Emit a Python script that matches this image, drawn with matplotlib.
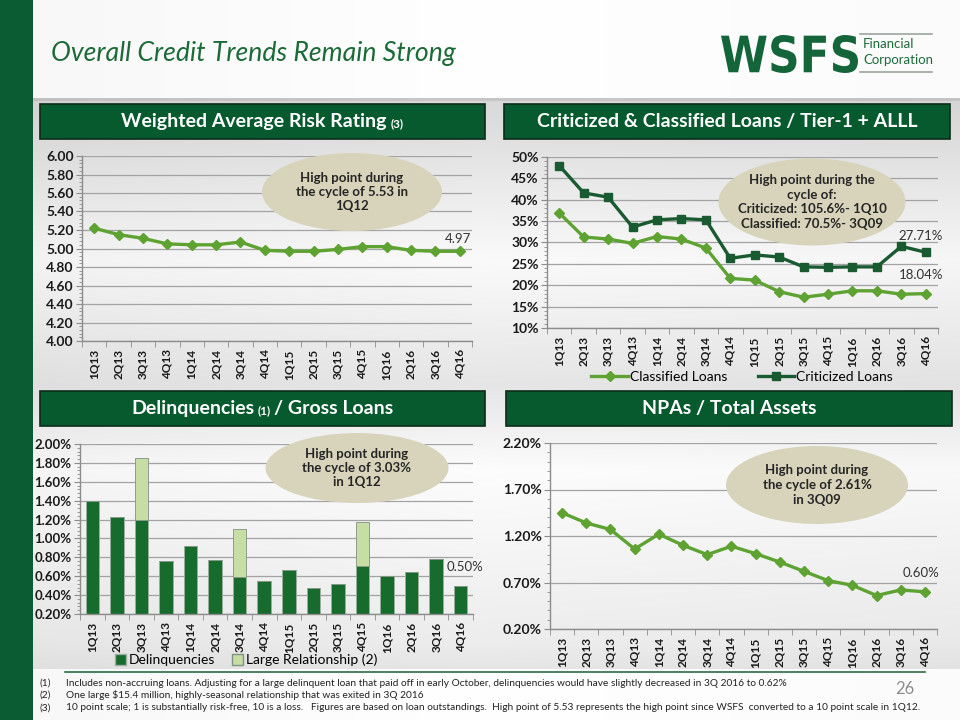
import numpy as np
import matplotlib
matplotlib.use('Agg')
import matplotlib.pyplot as plt
from matplotlib.patches import Rectangle, Ellipse, PathPatch, Patch
from matplotlib.lines import Line2D
from matplotlib.textpath import TextPath
from matplotlib.font_manager import FontProperties
from matplotlib.transforms import Affine2D
from matplotlib.ticker import MultipleLocator, FixedLocator, FuncFormatter

plt.rcParams['font.family'] = ['Lato', 'DejaVu Sans']

# ---- data ----
quarters = ['1Q13', '2Q13', '3Q13', '4Q13', '1Q14', '2Q14', '3Q14', '4Q14',
            '1Q15', '2Q15', '3Q15', '4Q15', '1Q16', '2Q16', '3Q16', '4Q16']

risk_rating = [5.22, 5.15, 5.11, 5.05, 5.04, 5.04, 5.07, 4.98,
               4.97, 4.97, 4.99, 5.02, 5.02, 4.98, 4.97, 4.97]

classified = [36.9, 31.3, 30.8, 29.8, 31.4, 30.8, 28.7, 21.6,
              21.2, 18.5, 17.2, 17.9, 18.7, 18.7, 17.9, 18.04]
criticized = [48.0, 41.6, 40.6, 33.6, 35.3, 35.6, 35.3, 26.3,
              27.1, 26.6, 24.3, 24.2, 24.3, 24.3, 29.1, 27.71]

delinquencies = [1.40, 1.23, 1.20, 0.76, 0.92, 0.77, 0.59, 0.55,
                 0.67, 0.48, 0.52, 0.71, 0.60, 0.64, 0.78, 0.50]
large_rel = [0, 0, 0.65, 0, 0, 0, 0.51, 0, 0, 0, 0, 0.46, 0, 0, 0, 0]

npa = [1.45, 1.34, 1.27, 1.06, 1.22, 1.10, 1.00, 1.09,
       1.01, 0.92, 0.82, 0.72, 0.67, 0.56, 0.62, 0.60]
npa_ticks = [0.20, 0.70, 1.20, 1.70, 2.20]

footnotes = [
    'Includes non-accruing loans. Adjusting for a large delinquent loan that paid off in early October, delinquencies would have slightly decreased in 3Q 2016 to 0.62%',
    'One large $15.4 million, highly-seasonal relationship that was exited in 3Q 2016',
    '10 point scale; 1 is substantially risk-free, 10 is a loss.   Figures are based on loan outstandings.  High point of 5.53 represents the high point since WSFS  converted to a 10 point scale in 1Q12.',
]

W, H = 960, 720
DARK = '#0b5c33'
LIGHT_LINE = '#5ea332'
CRIT = '#195a30'
BAR_DARK = '#176b2d'
BAR_LIGHT = '#c6dda3'
ELL = '#d8d4bb'


def fx(x):
    return x / W


def fy(y):
    return 1 - y / H


fig = plt.figure(figsize=(9.6, 7.2), dpi=100)

# background
bg = fig.add_axes([0, 0, 1, 1])
bg.set_axis_off()
ys = np.arange(H)
prof = np.interp(ys, [0, 97, 98, 100, 101, 260, 385, 470, 640, 668, 669, 720],
                 [1, 1, .78, .78, .85, .98, .90, .99, .93, .90, 1, 1])
xs = np.arange(W)
hprof = np.interp(xs, [0, 480, 960], [0.97, 1.0, 0.985])
img = np.clip(prof[:, None] * hprof[None, :], 0, 1)
img = np.dstack([img, img, img])
bg.imshow(img, extent=[0, 1, 0, 1], aspect='auto', zorder=-5)
bg.set_xlim(0, 1)
bg.set_ylim(0, 1)

# left green strip
fig.add_artist(Rectangle((0, 0), fx(33), 1, transform=fig.transFigure,
                         facecolor=DARK, edgecolor='none', zorder=0.5))

# title
fig.text(fx(51), fy(54), 'Overall Credit Trends Remain Strong', fontsize=19.2,
         style='italic', color='#1b6a37', va='center', ha='left')

# logo
tp = TextPath((0, 0), 'WSFS', size=100,
              prop=FontProperties(family='DejaVu Sans', weight='bold'))
bb = tp.get_extents()
tr = Affine2D().translate(-bb.x0, -bb.y0).scale(137 / bb.width, 38 / bb.height).translate(721, H - 73)
fig.add_artist(PathPatch(tp, transform=tr, facecolor='#14663a', edgecolor='none'))
fig.text(fx(863), fy(44), 'Financial', fontsize=9.5, color='#1e6b3a', va='center', ha='left')
fig.text(fx(863), fy(60), 'Corporation', fontsize=9.5, color='#1e6b3a', va='center', ha='left')
for yl in (34, 72):
    fig.add_artist(Line2D([fx(860), fx(932)], [fy(yl), fy(yl)], transform=fig.transFigure,
                          color='#9aa69e', lw=1.2))

renderer = fig.canvas.get_renderer()


def header(x0, y0, x1, y1, parts):
    fig.add_artist(Rectangle((fx(x0), fy(y1)), fx(x1 - x0), (y1 - y0) / H,
                             transform=fig.transFigure, facecolor='#07592e',
                             edgecolor='#0c2b18', lw=1.2))
    texts, widths = [], []
    for s, size in parts:
        if s is None:
            texts.append(None)
            widths.append(size)
            continue
        t = fig.text(0, 0, s, fontsize=size, weight='bold', color='white',
                     ha='left', va='baseline')
        texts.append(t)
        widths.append(t.get_window_extent(renderer).width)
    total = sum(widths)
    x = (x0 + x1) / 2 - total / 2
    base = (y0 + y1) / 2 + 6
    for t, w in zip(texts, widths):
        if t is not None:
            t.set_position((fx(x), fy(base)))
        x += w


header(40, 104, 485, 139, [('Weighted Average Risk Rating', 14), (None, 4), ('(3)', 8.5)])
header(504, 104, 950, 139, [('Criticized & Classified Loans / Tier-1 + ALLL', 14)])
header(40, 391, 485, 426, [('Delinquencies', 14), (None, 3), ('(1)', 8.5), (None, 3), ('/ Gross Loans', 14)])
header(506, 391, 952, 426, [('NPAs / Total Assets', 14)])


def make_ax(x0, y0, x1, y1):
    ax = fig.add_axes([fx(x0), fy(y1), fx(x1 - x0), (y1 - y0) / H])
    ax.set_facecolor('none')
    for s in ('top', 'right'):
        ax.spines[s].set_visible(False)
    for s in ('left', 'bottom'):
        ax.spines[s].set_color('#8c8c8c')
        ax.spines[s].set_linewidth(1.0)
    ax.set_xlim(-0.5, len(quarters) - 0.5)
    ax.set_xticks(range(len(quarters)))
    ax.set_xticklabels(quarters, rotation=90, fontsize=8.5, weight='bold', color='#1a1a1a')
    ax.xaxis.set_minor_locator(FixedLocator(np.arange(-0.5, len(quarters), 1)))
    ax.tick_params(axis='x', which='major', length=0, pad=6)
    ax.tick_params(axis='x', which='minor', length=4, color='#8c8c8c')
    ax.tick_params(axis='y', which='major', length=4, color='#8c8c8c',
                   labelsize=10, labelcolor='#1a1a1a', pad=2)
    ax.tick_params(axis='y', which='minor', length=2, color='#8c8c8c')
    ax.grid(axis='y', which='major', color='#a3a3a3', lw=0.9)
    ax.set_axisbelow(True)
    return ax


def bold_y(ax):
    for lab in ax.get_yticklabels():
        lab.set_fontweight('bold')


def ellipse(cx, cy, w, h, text):
    fig.add_artist(Ellipse((fx(cx), fy(cy)), fx(w), h / H, transform=fig.transFigure,
                           facecolor=ELL, edgecolor='none'))
    fig.text(fx(cx), fy(cy), text, ha='center', va='center', fontsize=9.5,
             weight='bold', color='#262626', linespacing=1.25)


x = np.arange(len(quarters))

# chart 1: risk rating
ax1 = make_ax(82, 156, 472, 341)
ax1.plot(x, risk_rating, color=LIGHT_LINE, lw=2.4, marker='D', ms=5.5)
ax1.set_ylim(4.0, 6.0)
ax1.yaxis.set_major_locator(MultipleLocator(0.2))
ax1.yaxis.set_minor_locator(MultipleLocator(0.04))
ax1.yaxis.set_major_formatter(FuncFormatter(lambda v, p: f'{v:.2f}'))
bold_y(ax1)
ax1.annotate(f'{risk_rating[-1]:.2f}', (x[-1], risk_rating[-1]), xytext=(-2, 12),
             textcoords='offset pixels', ha='center', va='center', fontsize=9.5, color='#333333')
ellipse(352, 192, 180, 78, 'High point during\nthe cycle of 5.53 in\n1Q12')

# chart 2: criticized & classified
ax2 = make_ax(547, 157, 938, 328)
ax2.plot(x, classified, color=LIGHT_LINE, lw=2.4, marker='D', ms=5.5, label='Classified Loans')
ax2.plot(x, criticized, color=CRIT, lw=2.4, marker='s', ms=5.5, label='Criticized Loans')
ax2.set_ylim(10, 50)
ax2.yaxis.set_major_locator(MultipleLocator(5))
ax2.yaxis.set_minor_locator(MultipleLocator(1))
ax2.yaxis.set_major_formatter(FuncFormatter(lambda v, p: f'{v:.0f}%'))
bold_y(ax2)
ax2.annotate(f'{criticized[-1]:.2f}%', (x[-1], criticized[-1]), xytext=(-5, 16),
             textcoords='offset pixels', ha='center', va='center', fontsize=9.5, color='#333333')
ax2.annotate(f'{classified[-1]:.2f}%', (x[-1], classified[-1]), xytext=(-5, 19),
             textcoords='offset pixels', ha='center', va='center', fontsize=9.5, color='#333333')
fig.legend(handles=ax2.get_lines(), loc='center', bbox_to_anchor=(fx(742), fy(377)),
           ncol=2, frameon=False, fontsize=10, handlelength=2.6, columnspacing=2.2,
           handletextpad=0.15)
ellipse(812, 202, 187, 87, 'High point during the\ncycle of:\nCriticized: 105.6%- 1Q10\nClassified: 70.5%- 3Q09')

# chart 3: delinquencies bars
ax3 = make_ax(80, 444, 473, 614)
base = 0.2
d = np.array(delinquencies)
l = np.array(large_rel)
ax3.bar(x, d - base, bottom=base, width=0.55, color=BAR_DARK, edgecolor='#9bb0a0', lw=0.6)
ax3.bar(x, l, bottom=d, width=0.55, color=BAR_LIGHT, edgecolor='#7f9385', lw=0.6)
ax3.set_ylim(0.2, 2.0)
ax3.yaxis.set_major_locator(MultipleLocator(0.2))
ax3.yaxis.set_minor_locator(MultipleLocator(0.04))
ax3.yaxis.set_major_formatter(FuncFormatter(lambda v, p: f'{v:.2f}%'))
ax3.tick_params(axis='y', labelsize=9.5)
bold_y(ax3)
ax3.annotate(f'{delinquencies[-1]:.2f}%', (x[-1], delinquencies[-1]), xytext=(4, 19),
             textcoords='offset pixels', ha='center', va='center', fontsize=9.5, color='#333333')
fig.legend(handles=[Patch(facecolor=BAR_DARK, edgecolor='#9bb0a0', label='Delinquencies'),
                    Patch(facecolor=BAR_LIGHT, edgecolor='#7f9385', label='Large Relationship (2)')],
           loc='center', bbox_to_anchor=(fx(246), fy(660)), ncol=2, frameon=False,
           fontsize=10, handlelength=0.8, handleheight=0.8, handletextpad=0.2, columnspacing=1.2)
ellipse(357, 468, 183, 70, 'High point during\nthe cycle of 3.03%\nin 1Q12')

# chart 4: NPAs
ax4 = make_ax(550, 443, 937, 629)
ax4.plot(x, npa, color=LIGHT_LINE, lw=2.4, marker='D', ms=5.5)
ax4.set_ylim(npa_ticks[0], npa_ticks[-1])
ax4.yaxis.set_major_locator(FixedLocator(npa_ticks))
ax4.yaxis.set_minor_locator(FixedLocator(np.arange(npa_ticks[0], npa_ticks[-1] + 0.01, 0.1)))
ax4.yaxis.set_major_formatter(FuncFormatter(lambda v, p: f'{v:.2f}%'))
bold_y(ax4)
ax4.annotate(f'{npa[-1]:.2f}%', (x[-1], npa[-1]), xytext=(-4, 19),
             textcoords='offset pixels', ha='center', va='center', fontsize=9.5, color='#333333')
ellipse(817, 485, 182, 78, 'High point during\nthe cycle of 2.61%\nin 3Q09')

# footnotes
fig.add_artist(Line2D([fx(65), fx(925)], [fy(672), fy(672)], transform=fig.transFigure,
                      color='#2d6b45', lw=1.2))
for i, note in enumerate(footnotes):
    yy = fy(683 + i * 12.5)
    fig.text(fx(40), yy, f'({i + 1})', fontsize=7.3, color='#222222', va='center')
    fig.text(fx(66), yy, note, fontsize=7.3, color='#222222', va='center')
fig.text(fx(905), fy(689), '26', fontsize=12, color='#8c8c8c', va='center', ha='center')

fig.savefig('out.png', dpi=100)
